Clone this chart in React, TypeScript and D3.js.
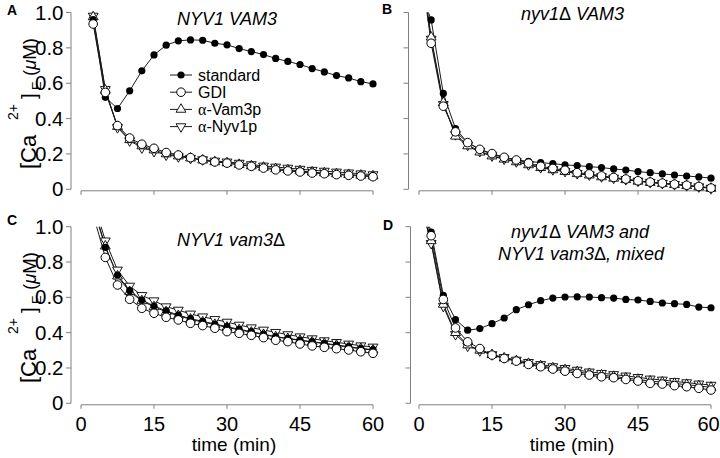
import React from 'react';
import * as d3 from 'd3';

// ---------- data ----------
const timesAC = [2.5, 5, 7.5, 10, 12.5, 15, 17.5, 20, 22.5, 25, 27.5, 30, 32.5, 35, 37.5, 40, 42.5, 45, 47.5, 50, 52.5, 55, 57.5, 60];
const timesBD = [1, 2.5, 5, 7.5, 10, 12.5, 15, 17.5, 20, 22.5, 25, 27.5, 30, 32.5, 35, 37.5, 40, 42.5, 45, 47.5, 50, 52.5, 55, 57.5, 60];

const aStandard = [0.96, 0.52, 0.457, 0.557, 0.67, 0.76, 0.815, 0.84, 0.845, 0.843, 0.826, 0.817, 0.796, 0.779, 0.762, 0.74, 0.723, 0.706, 0.683, 0.664, 0.643, 0.63, 0.609, 0.596];
const aGDI = [0.935, 0.548, 0.36, 0.29, 0.255, 0.232, 0.208, 0.194, 0.179, 0.166, 0.155, 0.148, 0.138, 0.13, 0.12, 0.11, 0.104, 0.098, 0.092, 0.088, 0.083, 0.079, 0.075, 0.071];
const aVam3 = [0.975, 0.56, 0.355, 0.28, 0.245, 0.222, 0.2, 0.188, 0.176, 0.165, 0.155, 0.149, 0.14, 0.132, 0.124, 0.116, 0.11, 0.104, 0.097, 0.092, 0.087, 0.083, 0.079, 0.075];
const aNyv1 = [0.98, 0.565, 0.35, 0.275, 0.235, 0.215, 0.195, 0.185, 0.176, 0.168, 0.16, 0.155, 0.148, 0.14, 0.132, 0.126, 0.12, 0.114, 0.108, 0.103, 0.098, 0.093, 0.088, 0.083];

const bStandard = [1.07, 0.958, 0.542, 0.343, 0.264, 0.226, 0.198, 0.179, 0.166, 0.158, 0.151, 0.145, 0.138, 0.134, 0.128, 0.123, 0.115, 0.109, 0.1, 0.094, 0.087, 0.081, 0.075, 0.07, 0.063];
const bGDI = [1.13, 0.826, 0.47, 0.325, 0.264, 0.226, 0.202, 0.181, 0.166, 0.148, 0.13, 0.118, 0.108, 0.094, 0.087, 0.076, 0.067, 0.058, 0.048, 0.041, 0.035, 0.029, 0.023, 0.016, 0.007];
const bVam3 = [1.15, 0.86, 0.49, 0.3, 0.245, 0.21, 0.188, 0.17, 0.155, 0.138, 0.122, 0.11, 0.1, 0.088, 0.08, 0.07, 0.062, 0.054, 0.045, 0.038, 0.032, 0.026, 0.02, 0.013, 0.005];
const bNyv1 = [1.14, 0.85, 0.48, 0.31, 0.25, 0.215, 0.19, 0.172, 0.157, 0.14, 0.124, 0.112, 0.102, 0.09, 0.082, 0.072, 0.064, 0.056, 0.047, 0.04, 0.034, 0.028, 0.022, 0.015, 0.007];

const cStandard = [1.11, 0.883, 0.726, 0.638, 0.585, 0.551, 0.523, 0.5, 0.479, 0.464, 0.449, 0.434, 0.419, 0.406, 0.392, 0.377, 0.368, 0.358, 0.349, 0.34, 0.33, 0.321, 0.311, 0.304];
const cGDI = [1.07, 0.826, 0.67, 0.589, 0.538, 0.51, 0.487, 0.472, 0.453, 0.44, 0.425, 0.406, 0.396, 0.385, 0.372, 0.357, 0.349, 0.336, 0.325, 0.317, 0.309, 0.302, 0.292, 0.283];
const cVam3 = [1.12, 0.89, 0.72, 0.632, 0.58, 0.546, 0.518, 0.496, 0.476, 0.46, 0.446, 0.43, 0.416, 0.402, 0.389, 0.376, 0.366, 0.356, 0.347, 0.338, 0.328, 0.318, 0.309, 0.301];
const cNyv1 = [1.15, 0.92, 0.755, 0.664, 0.611, 0.581, 0.547, 0.528, 0.506, 0.49, 0.475, 0.46, 0.443, 0.428, 0.415, 0.402, 0.389, 0.377, 0.366, 0.355, 0.345, 0.336, 0.326, 0.319];

const dStandard = [1.1, 0.97, 0.611, 0.474, 0.414, 0.423, 0.451, 0.483, 0.53, 0.558, 0.581, 0.596, 0.602, 0.603, 0.602, 0.598, 0.596, 0.588, 0.585, 0.577, 0.568, 0.564, 0.56, 0.545, 0.541];
const dGDI = [1.08, 0.949, 0.588, 0.427, 0.348, 0.31, 0.273, 0.254, 0.239, 0.22, 0.207, 0.194, 0.182, 0.169, 0.16, 0.15, 0.145, 0.135, 0.126, 0.113, 0.109, 0.1, 0.094, 0.085, 0.075];
const dVam3 = [1.06, 0.92, 0.56, 0.4, 0.33, 0.3, 0.275, 0.256, 0.24, 0.225, 0.212, 0.2, 0.19, 0.178, 0.168, 0.159, 0.152, 0.143, 0.135, 0.125, 0.12, 0.112, 0.106, 0.098, 0.09];
const dNyv1 = [1.06, 0.906, 0.55, 0.39, 0.325, 0.298, 0.276, 0.26, 0.245, 0.232, 0.22, 0.208, 0.198, 0.188, 0.178, 0.17, 0.163, 0.155, 0.147, 0.138, 0.132, 0.124, 0.117, 0.11, 0.103];

const xTicks = [0, 15, 30, 45, 60];
const yTicks = [0, 0.2, 0.4, 0.6, 0.8, 1.0];
const yTickLabels = ['0', '0.2', '0.4', '0.6', '0.8', '1.0'];
const seriesNames = ['standard', 'GDI', 'Vam3p', 'Nyv1p'];

// ---------- styling ----------
const FONT = "'Liberation Sans', Arial, Helvetica, sans-serif";
const AXIS = '#808080';
const LINE = '#1a1a1a';

type Kind = 'std' | 'gdi' | 'up' | 'down';

const triPath = d3.symbol().type(d3.symbolTriangle).size(42)() as string;

function Marker({ kind, cx, cy }: { kind: Kind; cx: number; cy: number }) {
  if (kind === 'std') return <circle cx={cx} cy={cy} r={3.6} fill="#000" />;
  if (kind === 'gdi') return <circle cx={cx} cy={cy} r={4.3} fill="#fff" stroke="#000" strokeWidth={1} />;
  const rot = kind === 'down' ? 180 : 0;
  return (
    <path d={triPath} transform={`translate(${cx},${cy}) rotate(${rot})`} fill="#fff" stroke="#000" strokeWidth={0.9} />
  );
}

interface PanelProps {
  id: string;
  times: number[];
  std: number[];
  gdi: number[];
  vam: number[];
  nyv: number[];
  yAxisX: number;
  x0: number;
  x60: number;
  yBottom: number;
  yTop: number;
  showYLabels: boolean;
  showXLabels: boolean;
  lastLabelShift?: number;
}

function Panel(p: PanelProps) {
  const x = d3.scaleLinear().domain([0, 60]).range([p.x0, p.x60]);
  const y = d3.scaleLinear().domain([0, 1]).range([p.yBottom, p.yTop]);
  const line = d3.line<[number, number]>().x((d) => x(d[0])).y((d) => y(d[1]));
  const series: { kind: Kind; vals: number[] }[] = [
    { kind: 'down', vals: p.nyv },
    { kind: 'up', vals: p.vam },
    { kind: 'std', vals: p.std },
    { kind: 'gdi', vals: p.gdi },
  ];
  const clipId = `clip-${p.id}`;
  const xAxisY = p.yBottom + 1.5;
  return (
    <g>
      <defs>
        <clipPath id={clipId}>
          <rect x={p.yAxisX} y={y(1)} width={p.x60 - p.yAxisX + 10} height={p.yBottom - y(1) + 10} />
        </clipPath>
      </defs>
      {/* y axis */}
      <line x1={p.yAxisX} x2={p.yAxisX} y1={y(0)} y2={y(1)} stroke={AXIS} strokeWidth={1} />
      {yTicks.map((t, i) => (
        <g key={i}>
          <line x1={p.yAxisX - 5} x2={p.yAxisX} y1={y(t)} y2={y(t)} stroke={AXIS} strokeWidth={1} />
          {p.showYLabels && (
            <text x={p.yAxisX - 7.5} y={y(t) + 7} textAnchor="end" fontSize={20.5} fontFamily={FONT} fill="#000">
              {yTickLabels[i]}
            </text>
          )}
        </g>
      ))}
      {/* x axis */}
      <line x1={x(0)} x2={x(60)} y1={xAxisY} y2={xAxisY} stroke={AXIS} strokeWidth={1} />
      {xTicks.map((t, i) => (
        <g key={t}>
          <line x1={x(t)} x2={x(t)} y1={xAxisY} y2={xAxisY + 4} stroke={AXIS} strokeWidth={1} />
          {p.showXLabels && (
            <text
              x={x(t) - (i === xTicks.length - 1 ? p.lastLabelShift || 0 : 0)}
              y={p.yBottom + 27.5}
              textAnchor="middle"
              fontSize={20}
              fontFamily={FONT}
              fill="#000"
            >
              {t}
            </text>
          )}
        </g>
      ))}
      {/* lines */}
      <g clipPath={`url(#${clipId})`}>
        {series.map((s) => (
          <path
            key={s.kind}
            d={line(p.times.map((t, i) => [t, s.vals[i]] as [number, number])) as string}
            fill="none"
            stroke={LINE}
            strokeWidth={1}
          />
        ))}
      </g>
      {/* markers */}
      {series.map((s) => (
        <g key={s.kind}>
          {p.times.map((t, i) =>
            s.vals[i] <= 1.0 ? <Marker key={i} kind={s.kind} cx={x(t)} cy={y(s.vals[i])} /> : null
          )}
        </g>
      ))}
    </g>
  );
}

// rotated y-axis label, pieces placed along the (rotated) text direction
function YLabel({ cx, cy }: { cx: number; cy: number }) {
  return (
    <g transform={`translate(${cx},${cy}) rotate(-90)`} fontFamily={FONT} fill="#000">
      <text x={-66} y={0} fontSize={22}>[Ca</text>
      <text x={-17} y={-18} fontSize={14}>2+</text>
      <text x={4} y={0} fontSize={21}>]</text>
      <text x={13} y={4.5} fontSize={13}>E</text>
      <text x={27} y={0} fontSize={18.5}>
        (<tspan fontStyle="italic">μ</tspan>M)
      </text>
    </g>
  );
}

function Legend({ x, y }: { x: number; y: number }) {
  const kinds: Kind[] = ['std', 'gdi', 'up', 'down'];
  const gap = 17.2;
  return (
    <g>
      {kinds.map((k, i) => {
        const yy = y + i * gap;
        return (
          <g key={k}>
            <line x1={x} x2={x + 22} y1={yy} y2={yy} stroke={LINE} strokeWidth={1} />
            <Marker kind={k} cx={x + 11} cy={yy} />
            <text x={x + 28} y={yy + 5.5} fontFamily={FONT} fontSize={16} fill="#000">
              {i >= 2 ? (
                <>
                  <tspan fontFamily="'Liberation Serif', 'DejaVu Serif', serif">α</tspan>-{seriesNames[i]}
                </>
              ) : (
                seriesNames[i]
              )}
            </text>
          </g>
        );
      })}
    </g>
  );
}

const titleStyle = { fontFamily: FONT, fontSize: 18, fontStyle: 'italic' as const };
const deltaStyle = { fontStyle: 'normal' as const };

export default function App() {
  return (
    <svg width={720} height={458} style={{ position: 'absolute', left: 0, top: 0, background: '#fff' }}>
      <rect x={0} y={0} width={720} height={458} fill="#fff" />
      <Panel id="A" times={timesAC} std={aStandard} gdi={aGDI} vam={aVam3} nyv={aNyv1}
        yAxisX={71} x0={81} x60={373} yBottom={189.3} yTop={12.5} showYLabels={true} showXLabels={false} />
      <Panel id="B" times={timesBD} std={bStandard} gdi={bGDI} vam={bVam3} nyv={bNyv1}
        yAxisX={408.5} x0={419} x60={711} yBottom={189.3} yTop={12.5} showYLabels={false} showXLabels={false} />
      <Panel id="C" times={timesAC} std={cStandard} gdi={cGDI} vam={cVam3} nyv={cNyv1}
        yAxisX={71} x0={81} x60={373} yBottom={403.3} yTop={226.7} showYLabels={true} showXLabels={true} />
      <Panel id="D" times={timesBD} std={dStandard} gdi={dGDI} vam={dVam3} nyv={dNyv1}
        yAxisX={410.5} x0={419} x60={711} yBottom={403.3} yTop={226.7} showYLabels={false} showXLabels={true}
        lastLabelShift={2.5} />

      <YLabel cx={36} cy={103} />
      <YLabel cx={36} cy={317} />

      <Legend x={170} y={75} />

      {/* panel letters */}
      <text x={7} y={15} fontFamily={FONT} fontWeight="bold" fontSize={14}>A</text>
      <text x={382} y={14} fontFamily={FONT} fontWeight="bold" fontSize={14}>B</text>
      <text x={7} y={225} fontFamily={FONT} fontWeight="bold" fontSize={14}>C</text>
      <text x={383} y={230} fontFamily={FONT} fontWeight="bold" fontSize={14}>D</text>

      {/* titles */}
      <text x={227} y={25} textAnchor="middle" {...titleStyle}>NYV1 VAM3</text>
      <text x={572.5} y={20} textAnchor="middle" {...titleStyle}>nyv1<tspan {...deltaStyle}>Δ</tspan> VAM3</text>
      <text x={231} y={245.5} textAnchor="middle" {...titleStyle}>NYV1 vam3<tspan {...deltaStyle}>Δ</tspan></text>
      <text x={580} y={237.5} textAnchor="middle" {...titleStyle}>nyv1<tspan {...deltaStyle}>Δ</tspan> VAM3 and</text>
      <text x={581} y={259.5} textAnchor="middle" {...titleStyle}>NYV1 vam3<tspan {...deltaStyle}>Δ</tspan>, mixed</text>

      {/* x axis titles */}
      <text x={234} y={450.5} textAnchor="middle" fontFamily={FONT} fontSize={19}>time (min)</text>
      <text x={572} y={450.5} textAnchor="middle" fontFamily={FONT} fontSize={19}>time (min)</text>
    </svg>
  );
}
